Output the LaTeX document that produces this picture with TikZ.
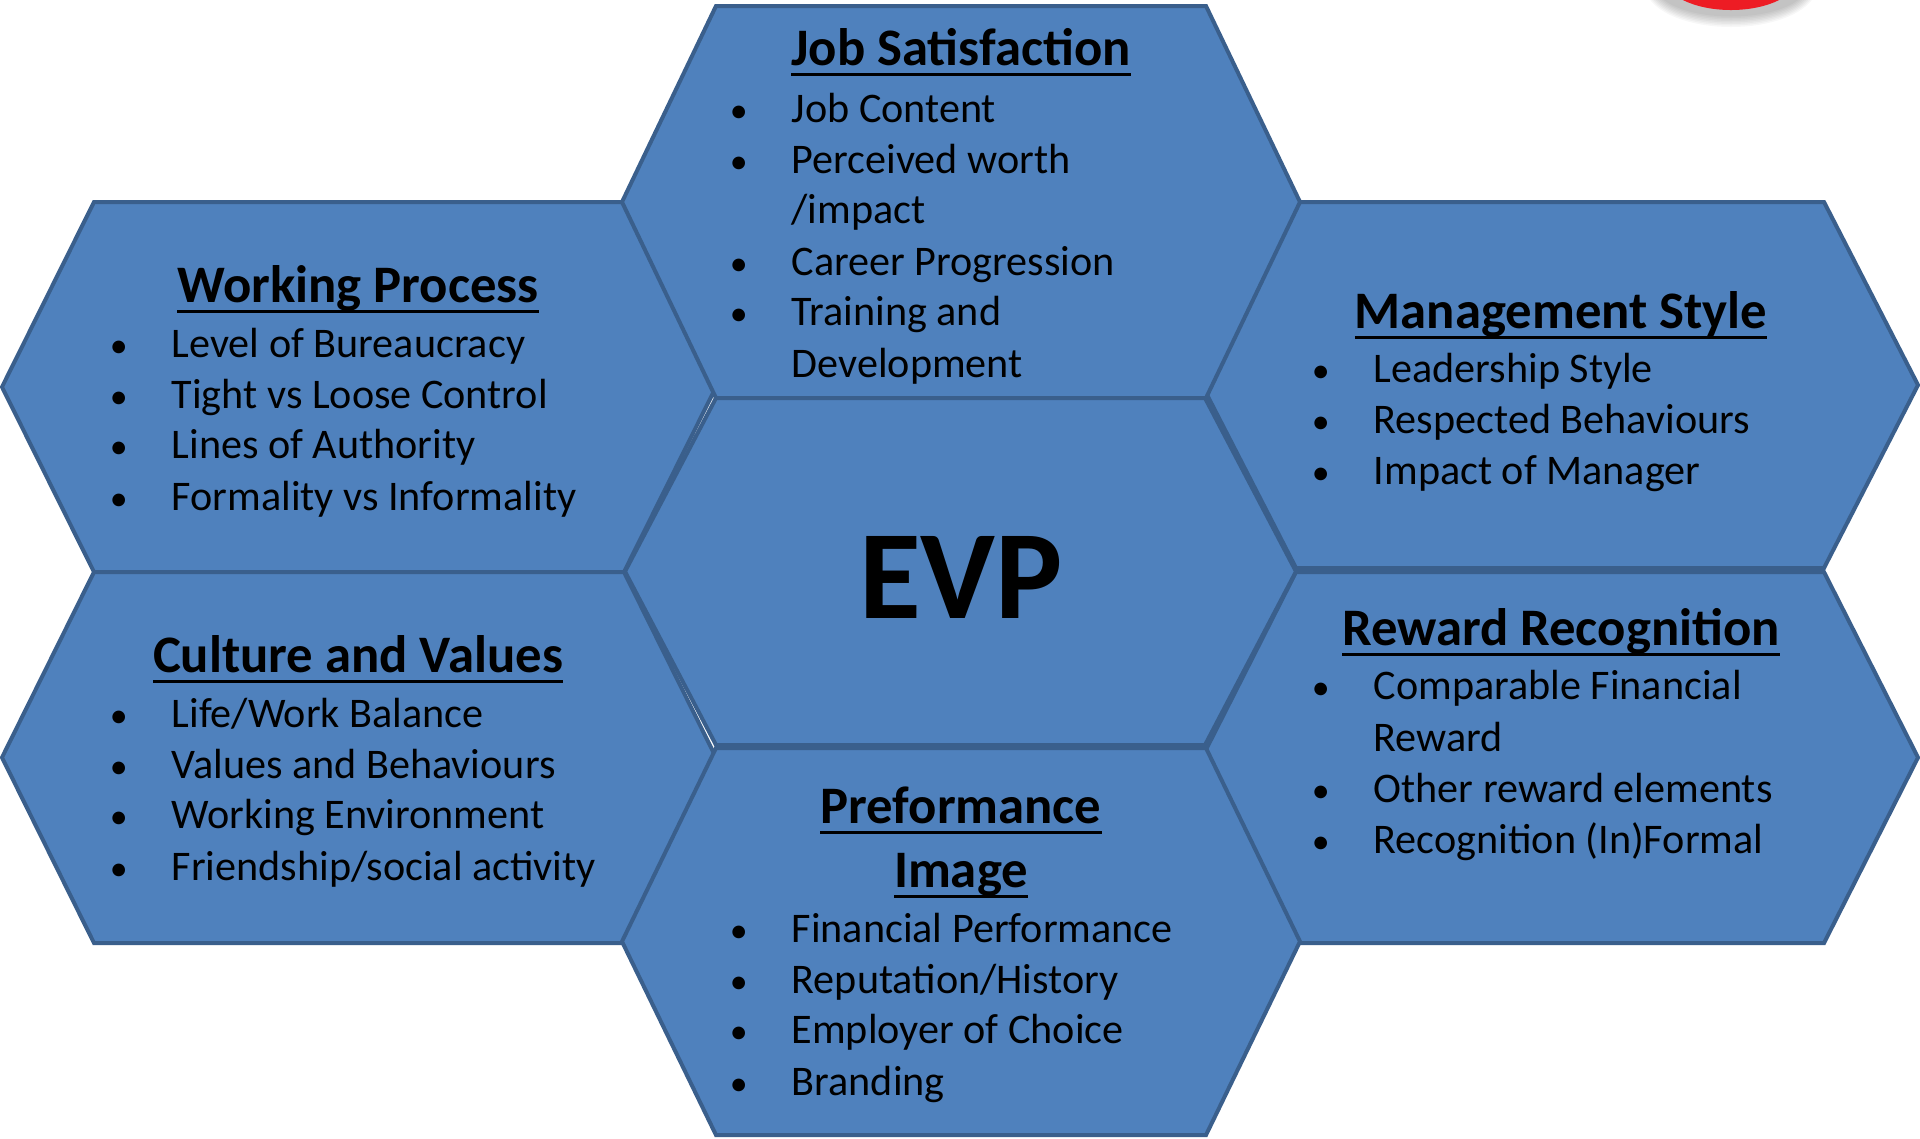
\documentclass[tikz,border=0pt]{standalone}
\usepackage{fontspec}
\setmainfont{Carlito}
\definecolor{hexfill}{HTML}{4F81BD}
\definecolor{hexline}{HTML}{3A5F8C}
\definecolor{badge}{HTML}{ED1C24}
% underlined heading with a fixed rule below the baseline
\newcommand\ulttl[1]{\setbox0\hbox{#1}\rlap{\rule[-3.2pt]{\wd0}{0.8pt}}\box0}
\tikzset{
  hexbox/.style={fill=hexfill, draw=hexline, line width=0.4mm, line join=miter},
  ttl/.style={inner sep=0pt, anchor=base, font=\fontsize{15}{18}\selectfont\bfseries},
  itm/.style={inner sep=0pt, anchor=base west, font=\fontsize{12}{14.5}\selectfont},
  evpt/.style={inner sep=0pt, anchor=base, font=\fontsize{36}{40}\selectfont\bfseries},
}
% hexagon: left x, right x, top y, bottom y, inset of the top/bottom edge
\newcommand\hexa[5]{\path[hexbox] (#1,{(#3+#4)/2}) -- (#1+#5,#3) -- (#2-#5,#3) -- (#2,{(#3+#4)/2}) -- (#2-#5,#4) -- (#1+#5,#4) -- cycle;}
% bulleted line and continuation line
\newcommand\bulline[4]{\node[itm] (#1) at (#2,#3) {\llap{\scalebox{0.85}{\textbullet}\hspace{12.5pt}}#4};}
\newcommand\contline[4]{\node[itm] (#1) at (#2,#3) {#4};}
\begin{document}
\begin{tikzpicture}[x=0.1mm, y=-0.1mm]
\fill[white] (0,0) rectangle (1920,1138);
\useasboundingbox (0,0) rectangle (1920,1138);

% red badge peeking in at the top
\foreach \k in {0,...,7}
  \fill[black, opacity=0.03] (1731,-14) ellipse [x radius={8.6mm-\k*0.15mm}, y radius={4.1mm-\k*0.15mm}];
\fill[badge] (1731,-24) ellipse [x radius=6.8mm, y radius=3.4mm];

% honeycomb
\hexa{2}{716}{202}{572}{92}
\hexa{2}{716}{572}{943}{92}
\hexa{1202}{1918}{202}{568}{94}
\hexa{1202}{1918}{572}{943}{94}
\hexa{622}{1300}{6}{398}{94}
\hexa{625}{1296}{398}{745}{91}
\hexa{622}{1300}{748}{1135}{94}

% centre
\node[evpt] (evp) at (961,618) {EVP};

% Job Satisfaction
\node[ttl] (jsT) at (961,65) {\ulttl{Job Satisfaction}};
\bulline{js1}{791}{122}{Job Content}
\bulline{js2}{791}{173}{Perceived worth}
\contline{js2b}{791}{223}{/impact}
\bulline{js3}{791}{275}{Career Progression}
\bulline{js4}{791}{325}{Training and}
\contline{js4b}{791}{377}{Development}

% Working Process
\node[ttl] (wpT) at (358,302) {\ulttl{Working Process}};
\bulline{wp1}{171}{357}{Level of Bureaucracy}
\bulline{wp2}{171}{408}{Tight vs Loose Control}
\bulline{wp3}{171}{458}{Lines of Authority}
\bulline{wp4}{171}{510}{Formality vs Informality}

% Culture and Values
\node[ttl] (cvT) at (358,672) {\ulttl{Culture and Values}};
\bulline{cv1}{171}{727}{Life/Work Balance}
\bulline{cv2}{171}{778}{Values and Behaviours}
\bulline{cv3}{171}{828}{Working Environment}
\bulline{cv4}{171}{880}{Friendship/social activity}

% Management Style
\node[ttl] (msT) at (1561,328) {\ulttl{Management Style}};
\bulline{ms1}{1373}{382}{Leadership Style}
\bulline{ms2}{1373}{433}{Respected Behaviours}
\bulline{ms3}{1373}{484}{Impact of Manager}

% Reward Recognition
\node[ttl] (rrT) at (1561,645) {\ulttl{Reward Recognition}};
\bulline{rr1}{1373}{699}{Comparable Financial}
\contline{rr1b}{1373}{751}{Reward}
\bulline{rr2}{1373}{802}{Other reward elements}
\bulline{rr3}{1373}{853}{Recognition (In)Formal}

% Preformance Image
\node[ttl] (piT1) at (961,823) {\ulttl{Preformance}};
\node[ttl] (piT2) at (961,887) {\ulttl{Image}};
\bulline{pi1}{791}{942}{Financial Performance}
\bulline{pi2}{791}{993}{Reputation/History}
\bulline{pi3}{791}{1043}{Employer of Choice}
\bulline{pi4}{791}{1095}{Branding}
\end{tikzpicture}
\end{document}
